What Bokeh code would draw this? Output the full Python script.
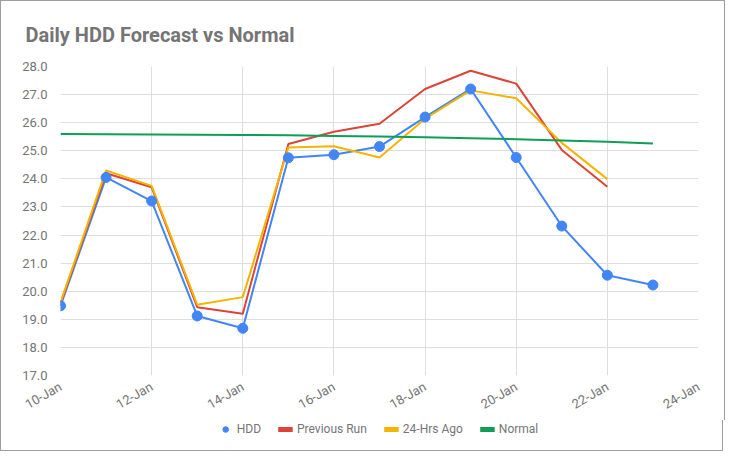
import math
from bokeh.plotting import figure
from bokeh.layouts import column
from bokeh.models import (FixedTicker, PrintfTickFormatter, Legend, LegendItem,
                          ColumnDataSource, Range1d)
from bokeh.embed import file_html
from bokeh.resources import INLINE

# ---- data ----
days = [10, 11, 12, 13, 14, 15, 16, 17, 18, 19, 20, 21, 22, 23]
hdd = [19.48, 24.05, 23.21, 19.12, 18.68, 24.75, 24.86, 25.15, 26.20, 27.20, 24.76, 22.32, 20.57, 20.22]
run_days = [10, 11, 12, 13, 14, 15, 16, 17, 18, 19, 20, 21, 22]
previous_run = [19.55, 24.20, 23.70, 19.43, 19.20, 25.24, 25.68, 25.96, 27.20, 27.85, 27.39, 25.03, 23.72]
hrs24_ago = [19.60, 24.30, 23.75, 19.52, 19.79, 25.12, 25.16, 24.76, 26.14, 27.15, 26.87, 25.28, 23.99]
normal = [25.60, 25.59, 25.58, 25.57, 25.56, 25.55, 25.53, 25.51, 25.48, 25.45, 25.41, 25.37, 25.32, 25.26]

x_ticks = [10, 12, 14, 16, 18, 20, 22, 24]
x_tick_labels = ["10-Jan", "12-Jan", "14-Jan", "16-Jan", "18-Jan", "20-Jan", "22-Jan", "24-Jan"]
y_ticks = [17, 18, 19, 20, 21, 22, 23, 24, 25, 26, 27, 28]
series_names = ["HDD", "Previous Run", "24-Hrs Ago", "Normal"]

TITLE = "Daily HDD Forecast vs Normal"
BLUE, RED, YELLOW, GREEN = "#4285F4", "#DB4437", "#F4B400", "#0F9D58"
FONT = "Roboto"
TXT = "#757575"
BORDER = "1px solid #9e9e9e"

# ---------------- main chart ----------------
p = figure(frame_width=636, frame_height=308,
           x_range=Range1d(10, 24), y_range=Range1d(17, 28),
           output_backend="svg", toolbar_location=None,
           min_border_left=59, min_border_right=28, min_border_top=65, min_border_bottom=36)
p.styles = {"border-top": BORDER, "border-left": BORDER, "border-right": BORDER}
p.outline_line_color = None
p.background_fill_color = "white"
p.border_fill_color = "white"

p.title.text = TITLE
p.title.text_font = FONT
p.title.text_font_size = "20px"
p.title.text_font_style = "bold"
p.title.text_color = TXT
p.title.align = "left"
p.title.offset = -35
p.title.standoff = 39

p.grid.grid_line_color = "#dedede"
p.grid.grid_line_width = 1

p.yaxis.ticker = FixedTicker(ticks=y_ticks)
p.yaxis.formatter = PrintfTickFormatter(format="%.1f")
p.xaxis.ticker = FixedTicker(ticks=x_ticks)
p.xaxis.major_label_overrides = dict(zip(x_ticks, x_tick_labels))
p.xaxis.major_label_orientation = math.pi / 6
for ax in (p.xaxis, p.yaxis):
    ax.axis_line_color = None
    ax.major_tick_line_color = None
    ax.minor_tick_line_color = None
    ax.major_label_text_font = FONT
    ax.major_label_text_font_size = "13px"
    ax.major_label_text_color = TXT
p.yaxis.major_label_standoff = 7
p.xaxis.major_label_standoff = 4

src_h = ColumnDataSource(dict(x=days, y=hdd))
p.line("x", "y", source=src_h, color=BLUE, line_width=2)
p.line(run_days, previous_run, color=RED, line_width=2)
p.line(run_days, hrs24_ago, color=YELLOW, line_width=2)
p.line(days, normal, color=GREEN, line_width=2)
p.scatter("x", "y", source=src_h, size=10, color=BLUE)

# ---------------- legend strip ----------------
# same series, drawn outside this strip's visible range: only their legend swatches show
lf = figure(width=723, height=31, x_range=Range1d(0, 1), y_range=Range1d(0, 1),
            x_axis_type=None, y_axis_type=None,
            output_backend="svg", toolbar_location=None,
            min_border_left=4, min_border_right=0, min_border_top=0, min_border_bottom=0)
lf.styles = {"border-bottom": BORDER, "border-left": BORDER, "border-right": BORDER}
lf.outline_line_color = None
lf.grid.visible = False
lf.background_fill_color = "white"
lf.border_fill_color = "white"

sw_h = lf.scatter(days, hdd, size=11, color=BLUE)
sw_r = lf.line(run_days, previous_run, color=RED, line_width=5)
sw_y = lf.line(run_days, hrs24_ago, color=YELLOW, line_width=5)
sw_n = lf.line(days, normal, color=GREEN, line_width=5)

legend = Legend(items=[LegendItem(label=n, renderers=[r])
                       for n, r in zip(series_names, [sw_h, sw_r, sw_y, sw_n])],
                orientation="horizontal", location="top_center")
legend.border_line_color = None
legend.background_fill_alpha = 0
legend.label_text_font = FONT
legend.label_text_font_size = "12px"
legend.label_text_color = TXT
legend.glyph_width = 15
legend.glyph_height = 14
legend.label_height = 14
legend.label_standoff = 4
legend.spacing = 17
legend.padding = 0
legend.margin = 2
lf.add_layout(legend)

layout = column(p, lf, spacing=0)

open("out.html", "w").write(file_html(layout, INLINE))
